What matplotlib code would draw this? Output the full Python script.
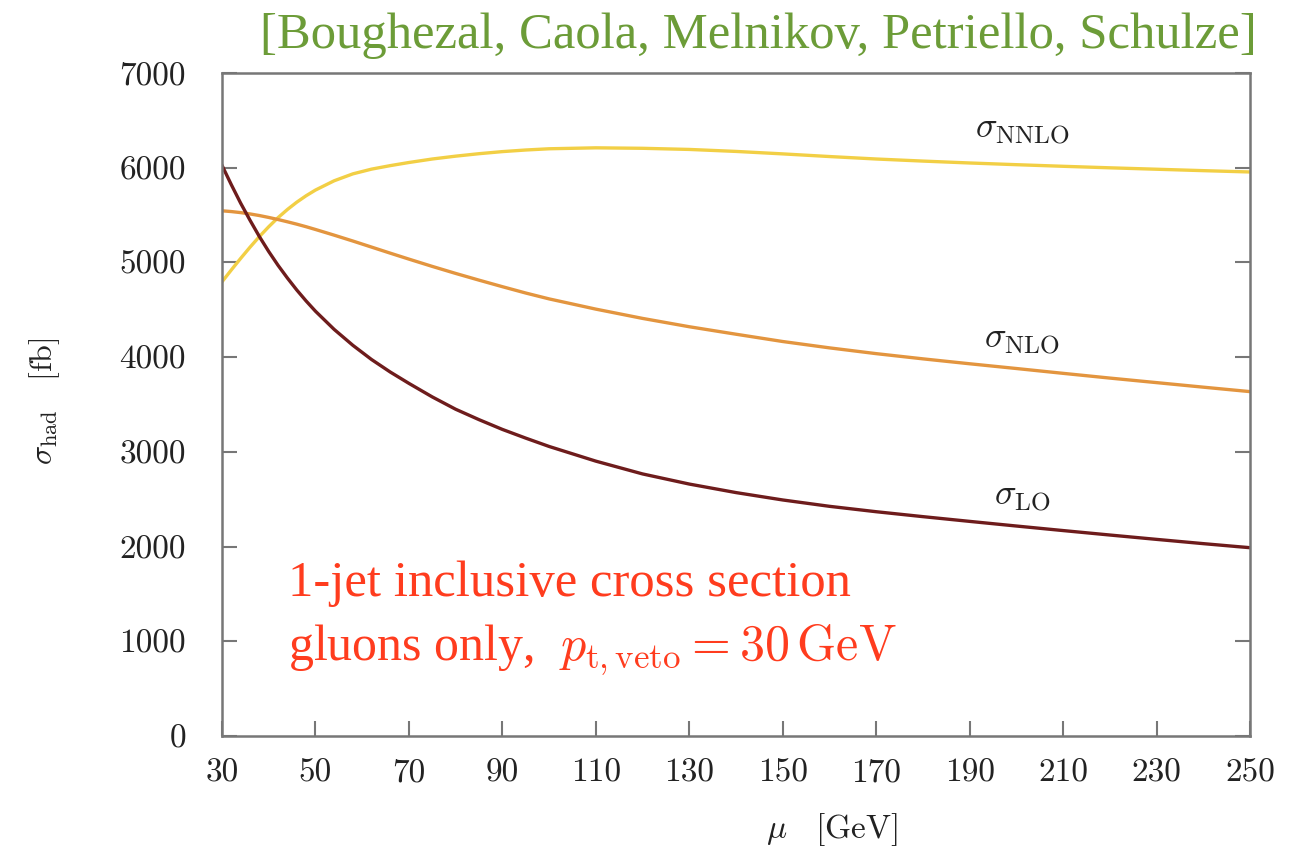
import matplotlib
matplotlib.use("Agg")
import matplotlib.pyplot as plt

plt.rcParams['mathtext.fontset'] = 'cm'
plt.rcParams['axes.formatter.use_mathtext'] = True

mu = [30, 32, 34, 36, 38, 40, 42, 44, 46, 48, 50, 54, 58, 62, 66, 70, 75, 80, 85, 90, 95, 100,
      110, 120, 130, 140, 150, 160, 170, 180, 190, 200, 210, 220, 230, 240, 250]
sigma_LO = [6025, 5820, 5625, 5445, 5273, 5115, 4969, 4835, 4709, 4593, 4485, 4293, 4125, 3975,
            3843, 3723, 3580, 3450, 3340, 3237, 3145, 3057, 2902, 2767, 2660, 2570, 2492, 2425,
            2368, 2316, 2266, 2217, 2169, 2122, 2076, 2031, 1988]
sigma_NLO = [5545, 5537, 5526, 5512, 5495, 5475, 5453, 5429, 5404, 5377, 5348, 5288, 5226, 5162,
             5098, 5035, 4958, 4884, 4813, 4744, 4677, 4615, 4507, 4409, 4321, 4242, 4165, 4098,
             4037, 3982, 3930, 3880, 3829, 3779, 3731, 3683, 3636]
sigma_NNLO = [4795, 4921, 5043, 5161, 5273, 5377, 5473, 5559, 5636, 5704, 5764, 5862, 5935, 5985,
              6022, 6055, 6092, 6122, 6148, 6170, 6187, 6200, 6210, 6205, 6193, 6172, 6146, 6118,
              6092, 6070, 6050, 6032, 6015, 5999, 5984, 5969, 5955]

xticks = [30, 50, 70, 90, 110, 130, 150, 170, 190, 210, 230, 250]
yticks = [0, 1000, 2000, 3000, 4000, 5000, 6000, 7000]

W, H = 1312, 850
fig = plt.figure(figsize=(W / 100, H / 100), dpi=100)
ax = fig.add_axes([222 / W, 1 - 736 / H, (1250 - 222) / W, (736 - 73) / H])

ax.plot(mu, sigma_NNLO, color='#f2cf45', lw=2.4, solid_joinstyle='round')
ax.plot(mu, sigma_NLO, color='#e3953f', lw=2.4, solid_joinstyle='round')
ax.plot(mu, sigma_LO, color='#6e1c1c', lw=2.4, solid_joinstyle='round')

ax.set_xlim(30, 250)
ax.set_ylim(0, 7000)
ax.set_xticks(xticks)
ax.set_yticks(yticks)
ax.set_xticklabels([str(t) for t in xticks], fontfamily='cmr10', fontsize=24, color='#222222')
ax.set_yticklabels([str(t) for t in yticks], fontfamily='cmr10', fontsize=24, color='#222222')
ax.tick_params(axis='both', direction='in', length=11, width=1.5, color='#777777')
ax.tick_params(axis='y', right=True, pad=26)
ax.tick_params(axis='x', pad=16)
for s in ax.spines.values():
    s.set_color('#777777')
    s.set_linewidth(1.8)


def px(x, y):
    return x / W, 1 - y / H


fig.text(*px(832, 830), r'$\mu\quad[\mathrm{GeV}]$', fontsize=24, ha='center', va='center', color='#222222')
fig.text(*px(45, 401), r'$\sigma_{\mathrm{had}}\quad[\mathrm{fb}]$', fontsize=23, ha='center',
         va='center', rotation=90, color='#222222')

fig.text(*px(1022, 130), r'$\sigma_{\mathrm{NNLO}}$', fontsize=26, ha='center', va='center', color='#222222')
fig.text(*px(1022, 340), r'$\sigma_{\mathrm{NLO}}$', fontsize=26, ha='center', va='center', color='#222222')
fig.text(*px(1022, 497), r'$\sigma_{\mathrm{LO}}$', fontsize=26, ha='center', va='center', color='#222222')

fig.text(*px(1257, 36), '[Boughezal, Caola, Melnikov, Petriello, Schulze]',
         fontsize=36.5, fontfamily='Liberation Serif', ha='right', va='center', color='#6c9c38')

fig.text(*px(288, 584), '1-jet inclusive cross section',
         fontsize=36.5, fontfamily='Liberation Serif', ha='left', va='center', color='#ff3c1e')
fig.text(*px(288, 650), r'gluons only,  $p_{\mathrm{t,veto}} = 30\,\mathrm{GeV}$',
         fontsize=36, fontfamily='Liberation Serif', ha='left', va='center', color='#ff3c1e')

fig.savefig('out.png', dpi=100)
